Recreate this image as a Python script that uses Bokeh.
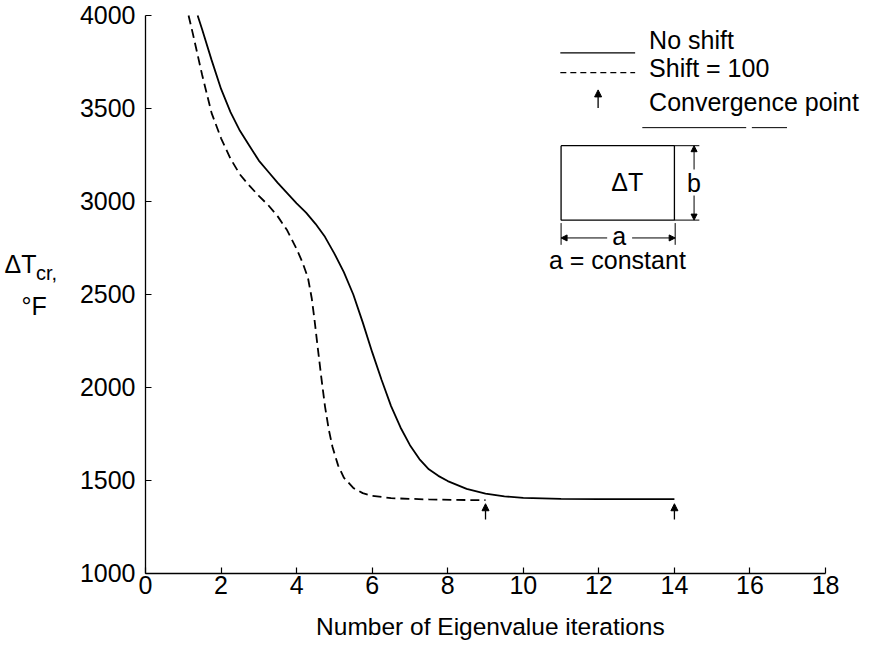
from bokeh.plotting import figure
from bokeh.models import Range1d, Label, Arrow, NormalHead, FixedTicker
from bokeh.embed import file_html
from bokeh.resources import INLINE

# ---- data ----
solid_x = [1.38, 1.5, 1.75, 2.0, 2.25, 2.5, 2.75, 3.0, 3.25, 3.5, 3.75, 4.0, 4.25, 4.5, 4.75,
           5.0, 5.25, 5.5, 5.75, 6.0, 6.25, 6.5, 6.75, 7.0, 7.25, 7.5, 7.75, 8.0, 8.5, 9.0,
           9.5, 10.0, 11.0, 12.0, 13.0, 14.0]
solid_y = [4000, 3925, 3760, 3605, 3480, 3380, 3300, 3220, 3160, 3100, 3045, 2990, 2940, 2880, 2810,
           2720, 2620, 2500, 2350, 2190, 2040, 1900, 1785, 1690, 1615, 1560, 1525, 1497, 1455, 1430,
           1415, 1407, 1401, 1400, 1400, 1400]

dashed_x = [1.14, 1.25, 1.5, 1.75, 2.0, 2.25, 2.5, 2.75, 3.0, 3.25, 3.5, 3.75, 4.0, 4.15, 4.3,
            4.4, 4.47, 4.55, 4.65, 4.75, 4.85, 4.95, 5.1, 5.25, 5.5, 5.75, 6.0, 6.5, 7.5, 8.5, 9.0]
dashed_y = [4000, 3905, 3680, 3475, 3340, 3230, 3145, 3085, 3030, 2980, 2920, 2845, 2745, 2675, 2590,
            2480, 2370, 2230, 2060, 1900, 1775, 1680, 1580, 1515, 1460, 1432, 1418, 1405, 1398, 1395, 1395]

conv_x = [9, 14]
x_ticks = [0, 2, 4, 6, 8, 10, 12, 14, 16, 18]
y_ticks = [1000, 1500, 2000, 2500, 3000, 3500, 4000]

FONT = "Liberation Sans"
FS = "25px"

# frame spans the whole canvas; both axes are pinned and bounded so their labels stay visible
p = figure(width=872, height=641, output_backend="svg", toolbar_location=None,
           x_range=Range1d(-3.838, 19.243), y_range=Range1d(634.4, 4080.6),
           min_border_left=0, min_border_right=0, min_border_top=0, min_border_bottom=0)
p.outline_line_color = None
p.grid.visible = False
p.background_fill_color = "white"

xa = p.xaxis[0]
ya = p.yaxis[0]
ya.fixed_location = 0
ya.bounds = (1000, 4000)
xa.fixed_location = 1000
xa.bounds = (0, 18)

for ax in (xa, ya):
    ax.axis_line_color = "black"
    ax.axis_line_width = 1.3
    ax.major_tick_in = 6
    ax.major_tick_out = 0
    ax.minor_tick_line_color = None
    ax.major_tick_line_color = "black"
    ax.major_tick_line_width = 1.2
    ax.major_label_text_font = FONT
    ax.major_label_text_font_size = FS
    ax.major_label_text_color = "black"

xa.ticker = FixedTicker(ticks=x_ticks)
ya.ticker = FixedTicker(ticks=y_ticks)
xa.major_label_standoff = 3
ya.major_label_standoff = 10

# curves
p.line(solid_x, solid_y, line_color="black", line_width=1.8)
p.line(dashed_x, dashed_y, line_color="black", line_width=1.8, line_dash="9 5")

# convergence arrows
for cx in conv_x:
    p.add_layout(Arrow(x_start=cx, y_start=1290, x_end=cx, y_end=1375,
                       line_width=1.3, line_color="black",
                       end=NormalHead(size=7, fill_color="black", line_color="black")))

def txt(x, y, s, size=FS, align="left", base="middle"):
    p.add_layout(Label(x=x, y=y, text=s, text_font=FONT, text_font_size=size,
                       text_align=align, text_baseline=base, text_color="black"))

# axis titles
txt(9.13, 715, "Number of Eigenvalue iterations", size="24.5px", align="center")
txt(-3.73, 2665, "ΔT")
txt(-2.90, 2618, "cr,", size="20px")
txt(-3.28, 2440, "°F")

# legend
p.line([10.98, 12.96], [3799, 3799], line_color="black", line_width=1.3)
p.line([10.98, 12.96], [3693, 3693], line_color="black", line_width=1.3, line_dash="6 4")
p.add_layout(Arrow(x_start=11.98, y_start=3503, x_end=11.98, y_end=3600,
                   line_width=1.3, line_color="black",
                   end=NormalHead(size=7, fill_color="black", line_color="black")))
txt(13.33, 3868, "No shift")
txt(13.33, 3720, "Shift = 100")
txt(13.33, 3534, "Convergence point")
p.line([13.15, 15.9], [3397, 3397], line_color="black", line_width=1.0)
p.line([16.05, 16.98], [3397, 3397], line_color="black", line_width=1.0)

# inset sketch
p.line([11, 14, 14, 11, 11], [3300, 3300, 2900, 2900, 3300], line_color="black", line_width=1.3)
txt(12.75, 3106, "ΔT", align="center")
# b dimension
p.line([14, 14.66], [3300, 3300], line_color="black", line_width=1.0)
p.line([14, 14.66], [2900, 2900], line_color="black", line_width=1.0)
p.add_layout(Arrow(x_start=14.52, y_start=3172, x_end=14.52, y_end=3300, line_width=1.0,
                   end=NormalHead(size=6, fill_color="black", line_color="black")))
p.add_layout(Arrow(x_start=14.52, y_start=3032, x_end=14.52, y_end=2900, line_width=1.0,
                   end=NormalHead(size=6, fill_color="black", line_color="black")))
txt(14.52, 3100, "b", align="center")
# a dimension
p.line([11, 11], [2884, 2767], line_color="black", line_width=1.0)
p.line([14.02, 14.02], [2884, 2767], line_color="black", line_width=1.0)
p.add_layout(Arrow(x_start=12.22, y_start=2804, x_end=11.0, y_end=2804, line_width=1.0,
                   end=NormalHead(size=6, fill_color="black", line_color="black")))
p.add_layout(Arrow(x_start=12.88, y_start=2804, x_end=14.02, y_end=2804, line_width=1.0,
                   end=NormalHead(size=6, fill_color="black", line_color="black")))
txt(12.54, 2814, "a", align="center")
txt(12.49, 2688, "a = constant", align="center")

open("out.html", "w").write(file_html(p, INLINE))
